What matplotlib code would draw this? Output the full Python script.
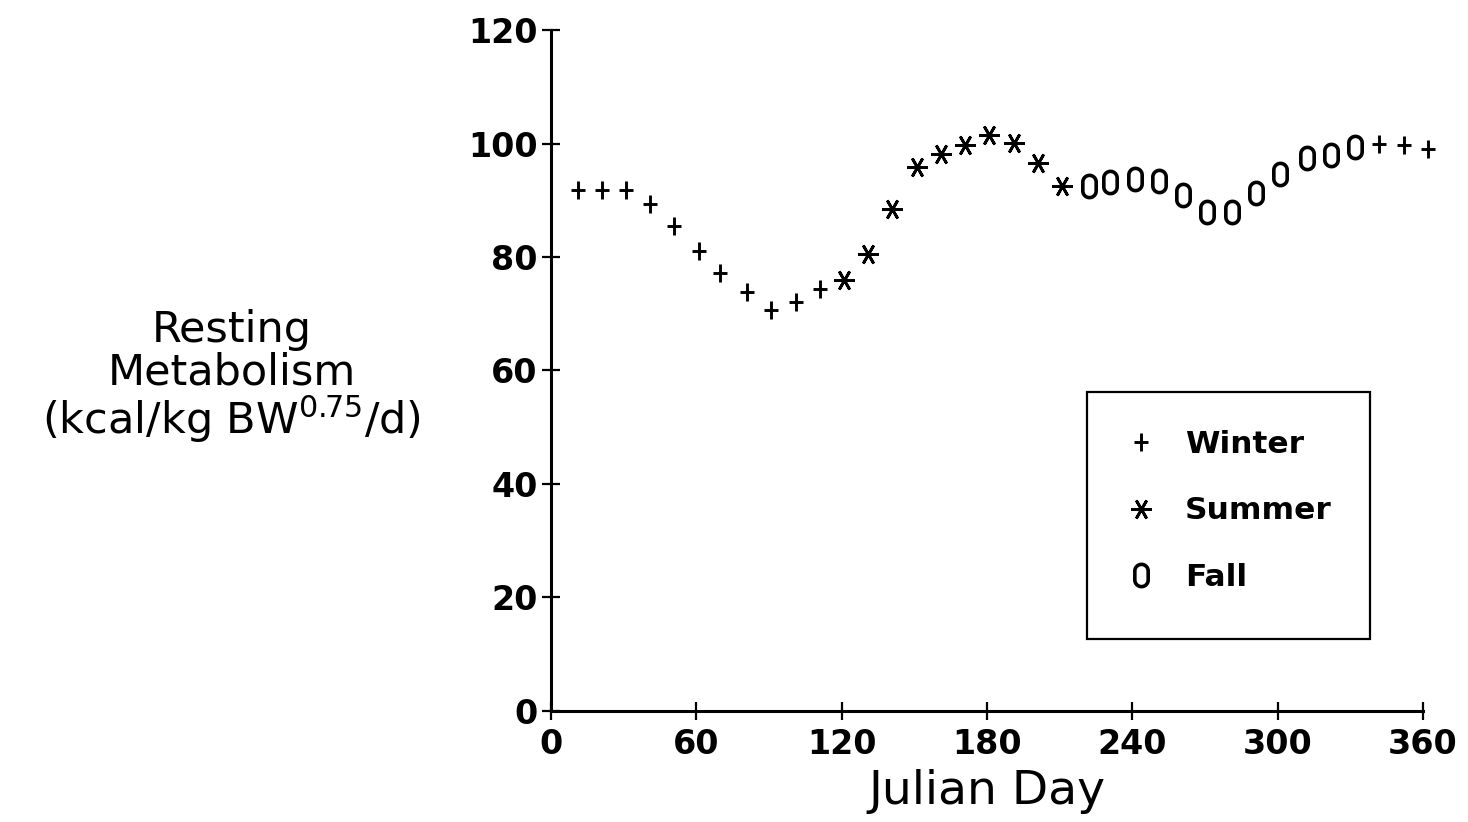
import numpy as np
import matplotlib
matplotlib.use("Agg")
import matplotlib.pyplot as plt
from matplotlib.path import Path
from matplotlib.patches import Rectangle
from matplotlib.lines import Line2D

# Resting metabolism by Julian day, grouped by season
winter_early_day = [11, 21, 31, 41, 51, 61, 70, 81, 91, 101, 111]
winter_early_val = [91.8, 91.8, 91.8, 89.4, 85.4, 81.0, 77.1, 73.8, 70.6, 72.1, 74.3]

summer_day = [121, 131, 141, 151, 161, 171, 181, 191, 201, 211]
summer_val = [75.9, 80.6, 88.4, 95.8, 98.1, 99.7, 101.5, 100.1, 96.6, 92.5]

fall_day = [222, 231, 241, 251, 261, 271, 281, 291, 301, 312, 322, 332]
fall_val = [92.5, 93.2, 93.8, 93.4, 90.9, 88.0, 88.0, 91.2, 94.6, 97.4, 98.0, 99.3]

winter_late_day = [342, 352, 362]
winter_late_val = [100.0, 99.7, 99.0]

x_ticks = [0, 60, 120, 180, 240, 300, 360]
y_ticks = [0, 20, 40, 60, 80, 100, 120]

# Marker shapes: a tall plus and a rounded "0"
plus_path = Path([(-0.38, 0), (0.38, 0), (0, -0.5), (0, 0.5)],
                 [Path.MOVETO, Path.LINETO, Path.MOVETO, Path.LINETO])
r = 0.3
t_top = np.linspace(0, np.pi, 20)
t_bot = np.linspace(np.pi, 2 * np.pi, 20)
ring = np.vstack([
    np.column_stack([r * np.cos(t_top), 0.2 + r * np.sin(t_top)]),
    np.column_stack([r * np.cos(t_bot), -0.2 + r * np.sin(t_bot)]),
])
ring = np.vstack([ring, ring[:1]])
zero_path = Path(ring, [Path.MOVETO] + [Path.LINETO] * (len(ring) - 2) + [Path.CLOSEPOLY])

winter_style = dict(marker=plus_path, markersize=13, markeredgewidth=2.1,
                    color="black", linestyle="none")
summer_style = dict(marker=(6, 2, 90), markersize=15, markeredgewidth=2.0,
                    color="black", linestyle="none")
fall_style = dict(marker=zero_path, markersize=16, markeredgewidth=2.6,
                  markerfacecolor="none", markeredgecolor="black", linestyle="none")

fig = plt.figure(figsize=(14.68, 8.22), dpi=100)
ax = fig.add_axes([0.3753, 0.1354, 0.594, 0.828])

ax.plot(winter_early_day, winter_early_val, **winter_style)
ax.plot(winter_late_day, winter_late_val, **winter_style)
ax.plot(summer_day, summer_val, **summer_style)
ax.plot(fall_day, fall_val, **fall_style)

ax.set_xlim(0, 360)
ax.set_ylim(0, 120)
ax.set_xticks(x_ticks)
ax.set_yticks(y_ticks)
ax.set_xticklabels([str(v) for v in x_ticks], fontsize=24, fontweight="bold")
ax.set_yticklabels([str(v) for v in y_ticks], fontsize=24, fontweight="bold")
ax.tick_params(axis="both", direction="inout", length=13, width=1.6, colors="black")
ax.tick_params(axis="x", pad=6)
ax.tick_params(axis="y", pad=3)

for side in ("top", "right"):
    ax.spines[side].set_visible(False)
for side in ("left", "bottom"):
    ax.spines[side].set_linewidth(2.2)
for ln in ax.lines:
    ln.set_clip_on(False)

ax.set_xlabel("Julian Day", fontsize=34, labelpad=6)
ax.set_ylabel("Resting\nMetabolism\n(kcal/kg BW$^{0.75}$/d)", fontsize=31,
              rotation=0, ha="center", va="center", linespacing=1.0)
ax.yaxis.set_label_coords(-0.366, 0.49)

# Legend box
ax.add_patch(Rectangle((0.615, 0.105), 0.324, 0.363, transform=ax.transAxes,
                       fill=False, edgecolor="black", linewidth=1.6, clip_on=False))
handles = [Line2D([], [], **winter_style),
           Line2D([], [], **summer_style),
           Line2D([], [], **fall_style)]
leg = ax.legend(handles, ["Winter", "Summer", "Fall"], loc="center",
                bbox_to_anchor=(0.615, 0.112, 0.324, 0.363), frameon=False,
                prop=dict(size=22.5, weight="bold"), labelspacing=1.2,
                handlelength=1.0, handletextpad=0.9)

fig.savefig("out.png", dpi=100, facecolor="white")
